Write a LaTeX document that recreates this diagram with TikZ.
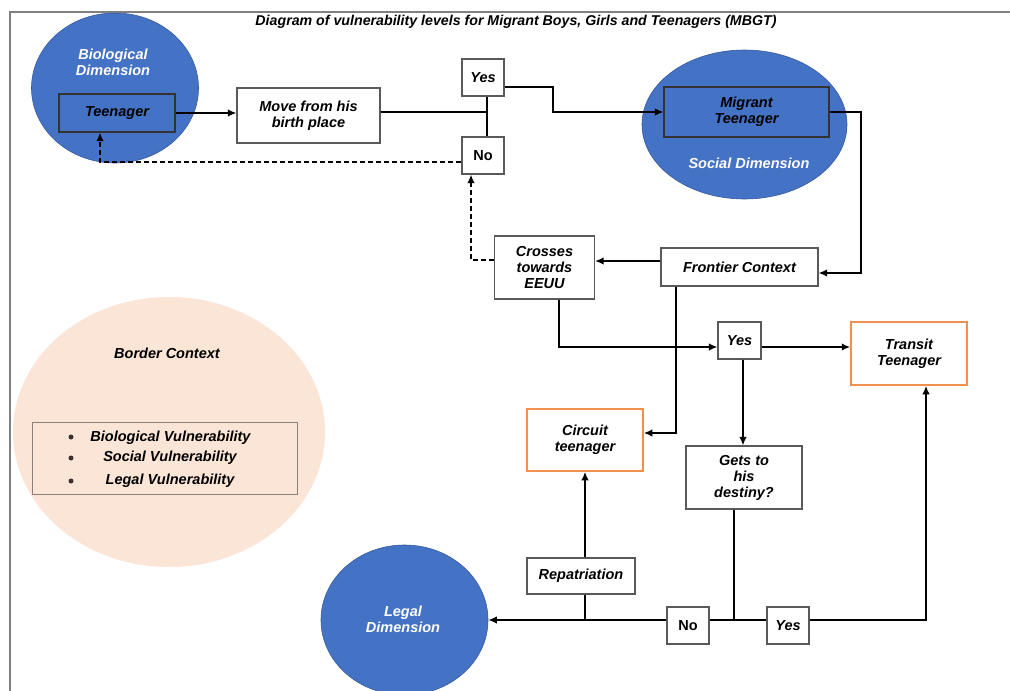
\documentclass[tikz,border=0pt]{standalone}
\usepackage{fontspec}
\setmainfont{Liberation Sans}
\usetikzlibrary{shapes.geometric,arrows.meta}
\definecolor{dimblue}{HTML}{4472C4}
\definecolor{peach}{HTML}{FBE5D6}
\definecolor{orng}{HTML}{ED7D31}
\definecolor{boxgray}{HTML}{595959}
\definecolor{framegray}{HTML}{808080}
\definecolor{listgray}{HTML}{8C7F7B}
\definecolor{bulletc}{HTML}{3B2F2F}
\tikzset{
  txt/.style={font=\fontsize{14.5}{16}\selectfont\bfseries\itshape, align=center},
  stepbox/.style={txt, draw=boxgray, line width=1.1pt, fill=white, inner sep=0pt},
  orbox/.style={stepbox, draw=orng!85!white, line width=1.5pt},
  bluebox/.style={txt, draw=black!80, line width=1.1pt, fill=dimblue, inner sep=0pt},
  dimell/.style={ellipse, fill=dimblue, draw=dimblue!80!black, line width=0.6pt, inner sep=0pt},
  wtxt/.style={txt, text=white},
  arr/.style={draw=black, line width=1.8pt, -{Latex[length=8.5pt,width=7.5pt]}},
  ln/.style={draw=black, line width=1.8pt},
  dasharr/.style={draw=black, line width=1.8pt, dash pattern=on 5pt off 3pt, -{Latex[length=8.5pt,width=7.5pt]}},
  bul/.style={circle, fill=bulletc, inner sep=0pt, minimum size=5pt}
}
\begin{document}
\begin{tikzpicture}[x=1pt,y=-1pt]
\useasboundingbox (0,0) rectangle (1010,691);
\fill[white] (0,0) rectangle (1010,691);
% frame
\draw[framegray, line width=2.2pt] (10,691) -- (10,12) -- (1010,12);
% title
\node[font=\fontsize{14.2}{16}\selectfont\bfseries\itshape] (title) at (516,22) {Diagram of vulnerability levels for Migrant Boys, Girls and Teenagers (MBGT)};
% ellipses
\node[dimell, minimum width=167pt, minimum height=150pt] (bio) at (115,88) {};
\node[dimell, minimum width=205pt, minimum height=149pt] (soc) at (744.5,124.5) {};
\node[dimell, minimum width=167pt, minimum height=150pt] (legal) at (404.5,620) {};
\node[ellipse, fill=peach, inner sep=0pt, minimum width=312pt, minimum height=270pt] (border) at (169,432) {};
% ellipse texts
\node[wtxt] (biotxt) at (113,62) {Biological\\Dimension};
\node[wtxt] (soctxt) at (749,163) {Social Dimension};
\node[wtxt] (legaltxt) at (403,619) {Legal\\Dimension};
\node[txt] (bordertxt) at (167,353) {Border Context};
% boxes
\node[bluebox, minimum width=116pt, minimum height=38pt] (teen) at (117,113) {Teenager};
\node[bluebox, minimum width=165pt, minimum height=50pt] (migrant) at (746.5,112) {Migrant\\Teenager};
\node[stepbox, minimum width=143pt, minimum height=55pt] (move) at (308.5,115.5) {Move from his\\birth place};
\node[stepbox, minimum width=42pt, minimum height=37pt] (yes1) at (483,77.5) {Yes};
\node[stepbox, minimum width=42pt, minimum height=37pt, font=\fontsize{14.5}{16}\selectfont\bfseries] (no1) at (483,155.5) {No};
\node[stepbox, minimum width=100pt, minimum height=63pt] (crosses) at (544.5,267.5) {Crosses\\towards\\EEUU};
\node[stepbox, minimum width=157pt, minimum height=38pt] (frontier) at (739.5,267) {Frontier Context};
\node[stepbox, minimum width=43pt, minimum height=37pt] (yes2) at (739.5,340.5) {Yes};
\node[orbox, minimum width=116pt, minimum height=63pt] (transit) at (909,353.5) {Transit\\Teenager};
\node[orbox, minimum width=116pt, minimum height=62pt] (circuit) at (585,440) {Circuit\\teenager};
\node[stepbox, minimum width=116pt, minimum height=63pt] (gets) at (744,477.5) {Gets to\\his\\destiny?};
\node[stepbox, minimum width=108pt, minimum height=36pt] (repat) at (581,576) {Repatriation};
\node[stepbox, minimum width=42pt, minimum height=37pt, font=\fontsize{14.5}{16}\selectfont\bfseries] (no2) at (688,625.5) {No};
\node[stepbox, minimum width=42pt, minimum height=37pt] (yes3) at (788,625.5) {Yes};
% vulnerability list
\node[draw=listgray, line width=0.8pt, minimum width=265pt, minimum height=72pt, inner sep=0pt] (vlist) at (164.5,458) {};
\node[bul] (b1) at (71,437) {};
\node[bul] (b2) at (71,458) {};
\node[bul] (b3) at (71,481) {};
\node[txt] (v1) at (170.5,438) {Biological Vulnerability};
\node[txt] (v2) at (170,458) {Social Vulnerability};
\node[txt] (v3) at (170,481) {Legal Vulnerability};
% coordinates
\coordinate (j1) at (487,112);
\coordinate (c1) at (553,112);
\coordinate (d1) at (100,162);
\coordinate (c3) at (861,273);
\coordinate (d2) at (471,260);
\coordinate (c4) at (559,347);
\coordinate (c5) at (676,433);
\coordinate (c7) at (743,347);
\coordinate (j2) at (734,620);
\coordinate (c6) at (926,620);
\coordinate (j3) at (585,620);
% connectors
\draw[arr] (teen.east) -- (teen.east -| move.west);
\draw[ln] (move.east |- j1) -- (j1);
\draw[ln] (j1 |- yes1.south) -- (j1 |- no1.north);
\draw[arr] ([yshift=-9.5pt]yes1.east) -| (c1) -- (c1 -| migrant.west);
\draw[dasharr] (no1.west |- d1) -- (d1) -- (d1 |- teen.south);
\draw[arr] (migrant.east) -| (c3) -- (c3 -| frontier.east);
\draw[arr] ([yshift=6pt]frontier.west) -- ([yshift=6pt]frontier.west -| crosses.east);
\draw[dasharr] (crosses.west |- d2) -- (d2) -- (d2 |- no1.south);
\draw[arr] (crosses.south -| c4) -- (c4) -- (c4 -| yes2.west);
\draw[arr] (yes2.east |- c4) -- (c4 -| transit.west);
\draw[arr] (frontier.south -| c5) -- (c5) -- (c5 -| circuit.east);
\draw[arr] (yes2.south -| c7) -- (c7 |- gets.north);
\draw[ln, line width=2.2pt] (gets.south -| j2) -- (j2);
\draw[ln] (no2.east |- j2) -- (j2) -- (j2 -| yes3.west);
\draw[arr] (yes3.east |- c6) -- (c6) -- (c6 |- transit.south);
\draw[arr, line width=2.6pt] (no2.west |- j2) -- (j2 -| legal.east);
\draw[ln, line width=2.2pt] (repat.south -| j3) -- (j3);
\draw[arr, line width=2.2pt] (repat.north -| j3) -- (j3 |- circuit.south);
\end{tikzpicture}
\end{document}
